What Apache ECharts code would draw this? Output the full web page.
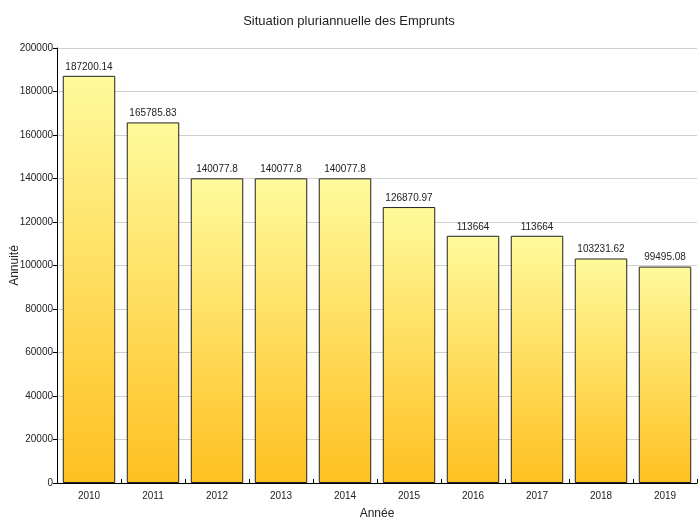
<!DOCTYPE html>
<html><head><meta charset="utf-8">
<script src="https://cdn.jsdelivr.net/npm/echarts@6/dist/echarts.min.js"></script>
<style>html,body{margin:0;padding:0;background:#fff}#c{width:698px;height:520px}</style>
</head><body><div id="c"></div>
<script>
const categories = ['2010','2011','2012','2013','2014','2015','2016','2017','2018','2019'];
const values = [187200.14,165785.83,140077.8,140077.8,140077.8,126870.97,113664,113664,103231.62,99495.08];
const yTicks = [0,20000,40000,60000,80000,100000,120000,140000,160000,180000,200000];
const FONT = '"Liberation Sans Narrow", "Liberation Sans", Arial, sans-serif';
const chart = echarts.init(document.getElementById('c'));
chart.setOption({
  animation:false,
  backgroundColor:'#fff',
  title:{text:'Situation pluriannuelle des Emprunts',left:'center',top:10,
    textStyle:{fontFamily:FONT,fontSize:13,fontWeight:'normal',color:'#222'}},
  grid:{left:57,right:1,top:48,bottom:37,containLabel:false,outerBoundsMode:'none'},
  xAxis:{type:'category',data:categories,name:'Année',nameLocation:'middle',nameGap:25,
    nameMoveOverlap:false,
    nameTextStyle:{fontFamily:FONT,fontSize:12,color:'#222'},
    axisLine:{lineStyle:{color:'#000',width:1}},
    axisTick:{show:true,inside:true,length:4,lineStyle:{color:'#000'}},
    axisLabel:{fontFamily:FONT,fontSize:10,color:'#222',margin:8}},
  yAxis:{type:'value',min:yTicks[0],max:yTicks[yTicks.length-1],interval:20000,
    name:'Annuité',nameLocation:'middle',nameGap:36,nameMoveOverlap:false,
    nameTextStyle:{fontFamily:FONT,fontSize:12,color:'#222'},
    axisLine:{show:true,lineStyle:{color:'#000',width:1}},
    axisTick:{show:true,length:4,lineStyle:{color:'#000'}},
    axisLabel:{fontFamily:FONT,fontSize:10,color:'#222',margin:4,formatter:v=>String(v)},
    splitLine:{show:true,lineStyle:{color:'#d0d0d0',width:1}}},
  series:[{type:'bar',data:values,barCategoryGap:'18%',
    itemStyle:{borderColor:'#222',borderWidth:1,
      color:new echarts.graphic.LinearGradient(0,0,0,1,[
        {offset:0,color:'#fffa9c'},{offset:1,color:'#ffc020'}])},
    label:{show:true,position:'top',distance:4,fontFamily:FONT,fontSize:10,color:'#222',
      formatter:p=>String(p.value)}}]
});
</script></body></html>
